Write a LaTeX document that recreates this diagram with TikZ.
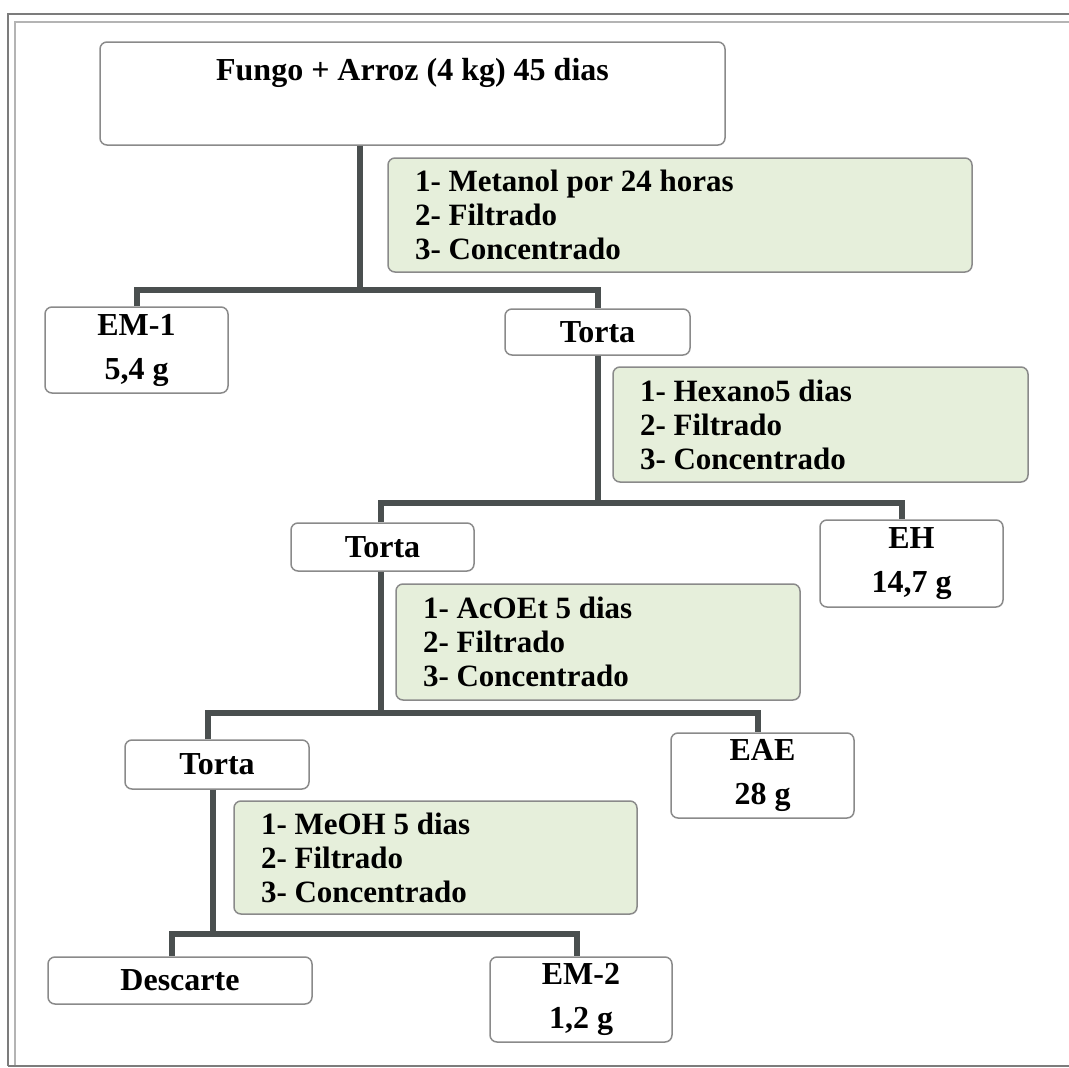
\documentclass[tikz,border=0pt]{standalone}
\usepackage{fontspec}
\setmainfont{Liberation Serif}

\definecolor{stepfill}{HTML}{E6EFDB}
\definecolor{linkgray}{HTML}{4A4F4F}
\definecolor{boxgray}{HTML}{8A8A8A}
\definecolor{frameout}{HTML}{7C7C7C}
\definecolor{framein}{HTML}{B4B4B4}

\begin{document}
\begin{tikzpicture}[x=1pt, y=-1pt,
    result/.style={draw=boxgray, line width=1.5pt, fill=white, rounded corners=7pt,
        align=center, inner sep=0pt, font=\bfseries\fontsize{32}{44}\selectfont},
    stepbox/.style={draw=boxgray, line width=1.5pt, fill=stepfill, rounded corners=7pt,
        align=flush left, inner xsep=27pt, inner ysep=0pt, font=\bfseries\fontsize{31}{34}\selectfont},
    link/.style={draw=linkgray, line width=6pt}]
    \useasboundingbox (0,0) rectangle (1069,1068);
    % double frame
    \draw[frameout, line width=2pt] (8,1066) -- (8,14) -- (1069,14);
    \draw[framein, line width=1.5pt] (15,1066) -- (15,22) -- (1069,22);
    \draw[frameout, line width=2pt] (8,1066) -- (1069,1066);
    % start material
    \node[result, minimum width=625pt, minimum height=103pt, text height=22pt, text depth=48pt] (fungo) at (412.5,93.5) {Fungo + Arroz (4 kg) 45 dias};
    % first extraction
    \node[stepbox, text width=530pt, minimum height=114pt] (metanol) at (680,215) {1- Metanol por 24 horas\\2- Filtrado\\3- Concentrado};
    \node[result, minimum width=183pt, minimum height=86pt] (em1) at (136.5,350) {EM-1\\5,4 g};
    \node[result, minimum width=185pt, minimum height=46pt] (torta1) at (597.5,332) {Torta};
    % hexane
    \node[stepbox, text width=361pt, minimum height=115pt] (hexano) at (820.5,424.5) {1- Hexano5 dias\\2- Filtrado\\3- Concentrado};
    \node[result, minimum width=183pt, minimum height=48pt] (torta2) at (382.5,547) {Torta};
    \node[result, minimum width=183pt, minimum height=87pt] (eh) at (911.5,563.5) {EH\\14,7 g};
    % ethyl acetate
    \node[stepbox, text width=350pt, minimum height=116pt] (acoet) at (598,642) {1- AcOEt 5 dias\\2- Filtrado\\3- Concentrado};
    \node[result, minimum width=184pt, minimum height=49pt] (torta3) at (217,764.5) {Torta};
    \node[result, minimum width=183pt, minimum height=85pt] (eae) at (762.5,775.5) {EAE\\28 g};
    % methanol
    \node[stepbox, text width=349pt, minimum height=113pt] (meoh) at (435.5,857.5) {1- MeOH 5 dias\\2- Filtrado\\3- Concentrado};
    \node[result, minimum width=264pt, minimum height=47pt] (descarte) at (180,980.5) {Descarte};
    \node[result, minimum width=182pt, minimum height=85pt] (em2) at (581,999.5) {EM-2\\1,2 g};
    % branch points
    \coordinate (b1) at (360,290);
    \coordinate (b2) at (597,503);
    \coordinate (b3) at (380,713);
    \coordinate (b4) at (213,934);
    % connectors
    \draw[link] (fungo.south -| b1) -- (b1);
    \draw[link] (em1.north) -- (em1.north |- b1) -- (torta1.north |- b1) -- (torta1.north);
    \draw[link] (torta1.south) -- (torta1.south |- b2);
    \draw[link] ([xshift=-2pt]torta2.north) -- ([xshift=-2pt]torta2.north |- b2) -- ([xshift=-10pt]eh.north |- b2) -- ([xshift=-10pt]eh.north);
    \draw[link] ([xshift=-2pt]torta2.south) -- ([xshift=-2pt]torta2.south |- b3);
    \draw[link] ([xshift=-9pt]torta3.north) -- ([xshift=-9pt]torta3.north |- b3) -- ([xshift=-5pt]eae.north |- b3) -- ([xshift=-5pt]eae.north);
    \draw[link] ([xshift=-4pt]torta3.south) -- ([xshift=-4pt]torta3.south |- b4);
    \draw[link] ([xshift=-8pt]descarte.north) -- ([xshift=-8pt]descarte.north |- b4) -- ([xshift=-4pt]em2.north |- b4) -- ([xshift=-4pt]em2.north);
\end{tikzpicture}
\end{document}
